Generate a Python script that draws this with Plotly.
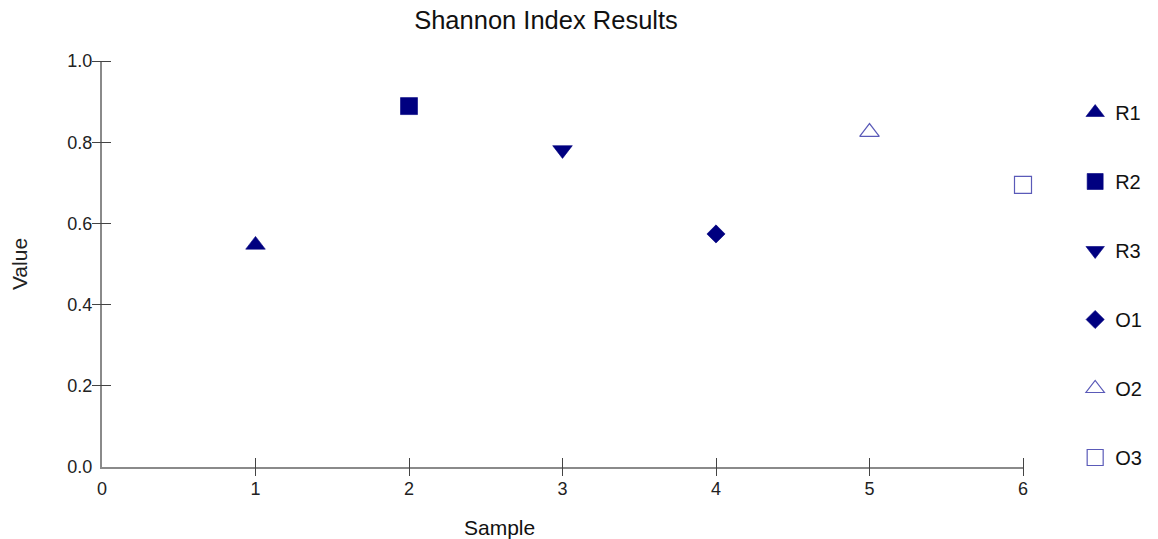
import plotly.graph_objects as go

samples = ["R1", "R2", "R3", "O1", "O2", "O3"]
x_vals = [1, 2, 3, 4, 5, 6]
y_vals = [0.547, 0.889, 0.781, 0.574, 0.825, 0.695]
symbols = ["triangle-up", "square", "triangle-down", "diamond", "triangle-up-open", "square-open"]
sizes = [17, 17, 17, 14, 17, 17]
x_ticks = [0, 1, 2, 3, 4, 5, 6]
y_ticks = [0.0, 0.2, 0.4, 0.6, 0.8, 1.0]

NAVY = "#000080"
LIGHT = "#5a5ab8"
FONT = "Liberation Sans, Arial, sans-serif"
PLOT_W, PLOT_H = 922, 406

fig = go.Figure()
for i, name in enumerate(samples):
    open_sym = symbols[i].endswith("open")
    fig.add_trace(go.Scatter(
        x=[x_vals[i]], y=[y_vals[i]], mode="markers", name=name,
        legendgroup=name, cliponaxis=False,
        marker=dict(symbol=symbols[i], size=sizes[i],
                    color=LIGHT if open_sym else NAVY,
                    line=dict(width=1.2 if open_sym else 0.6,
                              color=LIGHT if open_sym else NAVY)),
    ))

# invisible copy on the helper axes so their (crossing) tick marks are drawn
fig.add_trace(go.Scatter(x=x_vals, y=y_vals, xaxis="x2", yaxis="y2", mode="markers",
                         marker=dict(opacity=0), showlegend=False,
                         hoverinfo="skip"))

tick_common = dict(tickcolor="#444", tickwidth=1, showgrid=False, zeroline=False)

fig.update_layout(
    width=1158, height=539,
    margin=dict(l=102, r=134, t=61, b=72),
    plot_bgcolor="white", paper_bgcolor="white",
    font=dict(family=FONT, size=18, color="#222"),
    title=dict(text="Shannon Index Results", x=546/1158, xanchor="center",
               y=1 - 20/539, yanchor="middle", xref="container", yref="container",
               font=dict(size=25.5, color="#111")),
    showlegend=True,
    legend=dict(x=1.0555, xanchor="left", y=1 - (113 - 61 - 20) / PLOT_H, yanchor="top",
                font=dict(size=20, color="#111"), tracegroupgap=40,
                itemwidth=30, bgcolor="rgba(0,0,0,0)"),
    xaxis=dict(range=[0, 6], tickvals=x_ticks, ticks="",
               showline=True, linecolor="#8a8a8a", linewidth=2,
               tickfont=dict(size=18), ticklabelstandoff=4, showgrid=False,
               zeroline=False),
    xaxis2=dict(range=[0, 6], tickvals=x_ticks[1:], ticks="outside", ticklen=18,
                overlaying="x", anchor="free", position=10 / PLOT_H, side="bottom",
                showticklabels=False, showline=False, **tick_common),
    yaxis=dict(range=[0, 1], tickvals=y_ticks, tickformat=".1f", ticks="",
               showline=True, linecolor="#8a8a8a", linewidth=2,
               tickfont=dict(size=18), ticklabelstandoff=4, showgrid=False,
               zeroline=False,
               title=dict(text="Value", font=dict(size=21), standoff=34)),
    yaxis2=dict(range=[0, 1], tickvals=y_ticks[1:], overlaying="y", anchor="free",
                position=9.5 / PLOT_W, side="left", ticks="outside", ticklen=19,
                showticklabels=False, showline=False, **tick_common),
    annotations=[dict(text="Sample", xref="paper", yref="paper",
                      x=(500 - 102) / PLOT_W, y=-(527 - 467) / PLOT_H,
                      xanchor="center", yanchor="middle", showarrow=False,
                      font=dict(size=21, color="#111"))],
)

fig.write_html("out.html", config={"displayModeBar": False},
               post_script="document.body.style.margin='0';")
